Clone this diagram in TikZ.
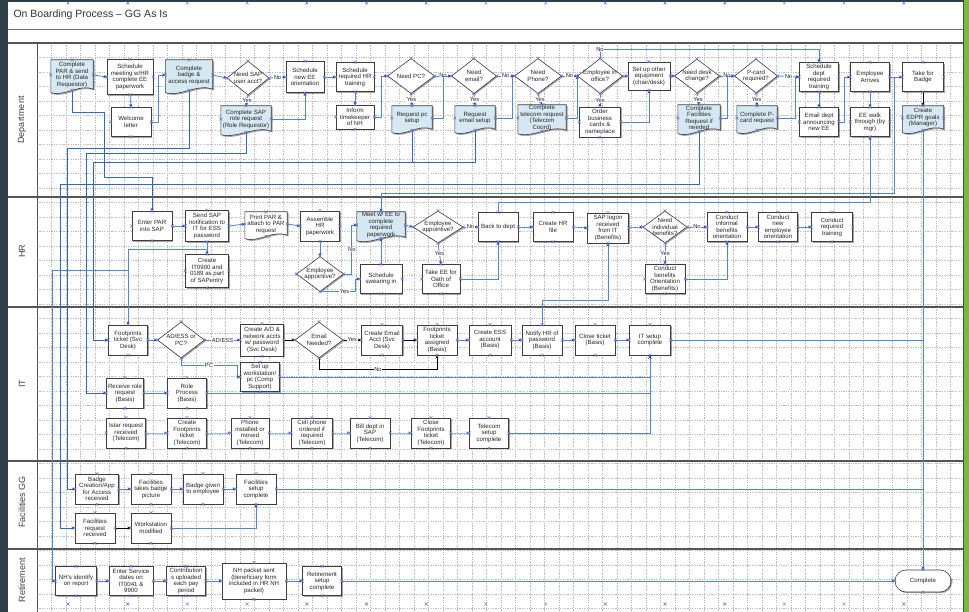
\documentclass[tikz,border=0pt]{standalone}
\usepackage{fontspec}
\setmainfont{Liberation Sans}
\usetikzlibrary{calc,shapes.geometric,shapes.misc,shadows,arrows.meta}
\pgfdeclarelayer{gridl}
\pgfdeclarelayer{bg}
\pgfsetlayers{gridl,bg,main}
\definecolor{framec}{RGB}{46,62,72}
\definecolor{greenbar}{RGB}{112,190,60}
\definecolor{boxc}{RGB}{62,62,62}
\definecolor{docfill}{RGB}{214,233,242}
\definecolor{connc}{RGB}{78,136,206}
\definecolor{conndc}{RGB}{45,105,195}
\definecolor{connlc}{RGB}{150,190,232}
\definecolor{arrc}{RGB}{30,80,170}
\definecolor{xmc}{RGB}{112,112,228}
\definecolor{gridc}{RGB}{185,185,185}
\definecolor{lanec}{RGB}{85,85,85}
\newcommand\docshape[2][docfill]{%
\begin{pgfonlayer}{bg}
\fill[black!35] ($(#2.north west)+(1.3,1.3)$) -- ($(#2.north east)+(1.3,1.3)$) -- ($(#2.south east)+(1.3,0.3)$) .. controls ($(#2.south west)!0.7!(#2.south east)+(1.3,-5.7)$) and ($(#2.south west)!0.3!(#2.south east)+(1.3,8.3)$) .. ($(#2.south west)+(1.3,3.8)$) -- cycle;
\filldraw[fill=#1, draw=boxc, line width=0.6pt] (#2.north west) -- (#2.north east) -- ($(#2.south east)+(0,-1)$) .. controls ($(#2.south west)!0.7!(#2.south east)+(0,-7)$) and ($(#2.south west)!0.3!(#2.south east)+(0,7)$) .. ($(#2.south west)+(0,2.5)$) -- cycle;
\end{pgfonlayer}}
\tikzset{
  every node/.style={font=\fontsize{6.1}{6.5}\selectfont, text=black!85},
  shad/.style={drop shadow={shadow xshift=1.2pt, shadow yshift=-1.2pt, opacity=0.35, fill=black}},
  box/.style={rectangle, draw=boxc, fill=white, line width=0.6pt, align=center, inner sep=0.5pt, minimum width=40, minimum height=30, shad},
  doc/.style={rectangle, draw=none, fill=none, align=center, inner sep=0.5pt, minimum width=40, minimum height=24},
  dia/.style={diamond, draw=boxc, fill=white, line width=0.6pt, inner sep=0pt, minimum width=46, minimum height=35, shad},
  dtext/.style={align=center, inner sep=0pt},
  term/.style={rounded rectangle, draw=boxc, fill=white, line width=0.6pt, minimum width=58, minimum height=22, inner sep=1pt, shad},
  conn/.style={draw=connc, line width=0.8pt, -{Stealth[length=3.3pt,width=3pt,color=arrc]}},
  connd/.style={draw=conndc, line width=0.95pt, -{Stealth[length=3.3pt,width=3pt,color=arrc]}},
  connk/.style={draw=black, line width=0.7pt, -{Stealth[length=3.3pt,width=3pt,color=black]}},
  connl/.style={draw=connlc, line width=0.8pt, -{Stealth[length=3.3pt,width=3pt,color=connc]}},
  connt/.style={draw=connc, line width=0.55pt},
  lab/.style={fill=white, inner sep=0.6pt, font=\fontsize{5.8}{6}\selectfont},
  xmk/.style={draw=xmc, line width=0.45pt},
  gridline/.style={draw=gridc, line width=0.3pt, dash pattern=on 1.2pt off 1.2pt},
  lanelab/.style={rotate=90, font=\fontsize{9}{10}\selectfont, text=black!75}
}
\begin{document}
\begin{tikzpicture}[x=1pt,y=-1pt]
\useasboundingbox (0,0) rectangle (969,612);
\begin{pgfonlayer}{gridl}
\fill[white] (0,0) rectangle (969,612);
\foreach \i in {0,...,63} \draw[gridline] ({37+14.5*\i},43) -- ({37+14.5*\i},612);
\foreach \j in {1,...,39} \draw[gridline] (37,{43+14.5*\j}) -- (963,{43+14.5*\j});
\fill[framec] (0,0) rectangle (8,612);
\fill[framec] (0,0) rectangle (969,2.2);
\fill[greenbar] (963.5,0) rectangle (969,612);
\draw[black!70, line width=0.4pt] (963,2) -- (963,612);
\draw[black!55, line width=0.6pt] (8,29) -- (963,29);
\foreach \yy in {43,197,307,461,549} \draw[lanec, line width=1.1pt] (8,\yy) -- (963,\yy);
\draw[lanec, line width=0.9pt] (37,43) -- (37,612);
\foreach \k in {0,...,14} {
  \draw[xmk] ({68+59.7*\k-1.5},1.5) -- ++(3,3) ({68+59.7*\k-1.5},4.5) -- ++(3,-3);
  \draw[xmk] ({68+59.7*\k-1.5},602.5) -- ++(3,3) ({68+59.7*\k-1.5},605.5) -- ++(3,-3);
}
\end{pgfonlayer}

\node[anchor=west, font=\fontsize{10.5}{12}\selectfont, text=black!80] (title) at (10,15) {On Boarding Process – GG As Is};
\node[lanelab] (LD) at (22,120) {Department};
\node[lanelab] (LH) at (22,251) {HR};
\node[lanelab] (LI) at (22,384) {IT};
\node[lanelab] (LF) at (22,502) {Facilities GG};
\node[lanelab] (LR) at (22,580) {Retirement};

% ---------------- Department
\node[doc, minimum width=42, minimum height=30] (D1) at (72,75) {Complete\\PAR \& send\\to HR (Data\\Requestor)};
\node[box, minimum width=46, minimum height=35] (D2) at (130,77) {Schedule\\meeting w/HR\\complete EE\\paperwork};
\node[doc, minimum width=47, minimum height=30] (D3) at (189,75) {Complete\\badge \&\\access request};
\node[dia, minimum width=42, minimum height=34] (D4) at (248,78) {};
\node[dtext] (D4t) at (D4) {Need SAP\\user acct?};
\node[box, minimum width=38, minimum height=31] (D5) at (305,77) {Schedule\\new EE\\orientation};
\node[doc, minimum width=50, minimum height=26] (D6) at (246,119) {Complete SAP\\role request\\(Role Requestor)};
\node[box, minimum width=40, minimum height=29] (D7) at (131,122) {Welcome\\letter};
\node[box, minimum width=38, minimum height=29] (D8) at (355,77) {Schedule\\required HR\\training};
\node[box, minimum width=38, minimum height=24] (D9) at (355,117) {Inform\\timekeeper\\of NH};
\node[dia, minimum width=47, minimum height=35] (D10) at (411,76) {};
\node[dtext] (D10t) at (D10) {Need PC?};
\node[doc, minimum width=40, minimum height=24] (D11) at (412,118) {Request pc\\setup};
\node[dia, minimum width=45, minimum height=35] (D12) at (474,76) {};
\node[dtext] (D12t) at (D12) {Need\\email?};
\node[doc, minimum width=40, minimum height=24] (D13) at (475,118) {Request\\email setup};
\node[dia, minimum width=47, minimum height=35] (D14) at (538,76) {};
\node[dtext] (D14t) at (D14) {Need\\Phone?};
\node[doc, minimum width=48, minimum height=26] (D15) at (542,118) {Complete\\telecom request\\(Telecom\\Coord)};
\node[dia, minimum width=45, minimum height=35] (D16) at (600,76) {};
\node[dtext] (D16t) at (D16) {Employee in\\office?};
\node[box, minimum width=41, minimum height=30] (D17) at (600,122) {Order\\business\\cards \&\\nameplace};
\node[box, minimum width=42, minimum height=28] (D18) at (649,76) {Set up other\\equipment\\(chair/desk)};
\node[dia, minimum width=45, minimum height=34] (D19) at (697,76) {};
\node[dtext] (D19t) at (D19) {Need desk\\change?};
\node[doc, minimum width=42, minimum height=26] (D20) at (699,118) {Complete\\Facilities\\Request if\\needed};
\node[dia, minimum width=43, minimum height=34] (D21) at (756,76) {};
\node[dtext] (D21t) at (D21) {P-card\\required?};
\node[doc, minimum width=40, minimum height=24] (D22) at (757,118) {Complete P-\\card request};
\node[box, minimum width=39, minimum height=29] (D23) at (819,77) {Schedule\\dept\\required\\training};
\node[box, minimum width=39, minimum height=29] (D24) at (819,122) {Email dept\\announcing\\new EE};
\node[box, minimum width=39, minimum height=29] (D25) at (870,77) {Employee\\Arrives};
\node[box, minimum width=39, minimum height=29] (D26) at (870,122) {EE walk\\through (by\\mgr)};
\node[box, minimum width=41, minimum height=29] (D27) at (923,77) {Take for\\Badge};
\node[doc, minimum width=41, minimum height=24] (D28) at (923,118) {Create\\EDPR goals\\(Manager)};

% ---------------- HR
\node[box, minimum width=40, minimum height=29] (H1) at (152,226) {Enter PAR\\into SAP};
\node[box, minimum width=43, minimum height=31] (H2) at (207,226) {Send SAP\\notification to\\IT for ESS\\password};
\node[doc, minimum width=42, minimum height=24] (H3) at (266,224) {Print PAR \&\\attach to PAR\\request};
\node[box, minimum width=39, minimum height=30] (H4) at (320,226) {Assemble\\HR\\paperwork};
\node[box, minimum width=43, minimum height=33] (H5) at (207,271) {Create\\IT0900 and\\0189 as part\\of SAPentry};
\node[dia, minimum width=47, minimum height=35] (H6) at (320,274) {};
\node[dtext] (H6t) at (H6) {Employee\\appointive?};
\node[doc, minimum width=48, minimum height=26] (H7) at (381,225) {Meet w/ EE to\\complete\\required\\paperwork};
\node[box, minimum width=42, minimum height=29] (H8) at (381,279) {Schedule\\swearing in};
\node[dia, minimum width=50, minimum height=32] (H9) at (438,227) {};
\node[dtext] (H9t) at (H9) {Employee\\appointive?};
\node[box, minimum width=38, minimum height=29] (H10) at (441,279) {Take EE for\\Oath of\\Office};
\node[box, minimum width=40, minimum height=29] (H11) at (498,227) {Back to dept};
\node[box, minimum width=40, minimum height=29] (H12) at (553,227) {Create HR\\file};
\node[box, minimum width=41, minimum height=30] (H13) at (608,228) {SAP logon\\received\\from IT\\(Benefits)};
\node[dia, minimum width=44, minimum height=32] (H14) at (665,227) {};
\node[dtext] (H14t) at (H14) {Need\\individual\\benefits?};
\node[box, minimum width=40, minimum height=29] (H15) at (665,279) {Conduct\\benefits\\Orientation\\(Benefits)};
\node[box, minimum width=40, minimum height=29] (H16) at (727,227) {Conduct\\informal\\benefits\\orientation};
\node[box, minimum width=39, minimum height=29] (H17) at (778,227) {Conduct\\new\\employee\\orientation};
\node[box, minimum width=41, minimum height=29] (H18) at (832,227) {Conduct\\required\\training};

% ---------------- IT
\node[box, minimum width=39, minimum height=30] (I1) at (128,340) {Footprints\\ticket (Svc\\Desk)};
\node[dia, minimum width=47, minimum height=36] (I2) at (181,340) {};
\node[dtext] (I2t) at (I2) {AD/ESS or\\PC?};
\node[box, minimum width=43, minimum height=32] (I3) at (262,340) {Create A/D \&\\network accts\\w/ password\\(Svc Desk)};
\node[dia, minimum width=48, minimum height=36] (I4) at (319,340) {};
\node[dtext] (I4t) at (I4) {Email\\Needed?};
\node[box, minimum width=39, minimum height=29] (I5) at (260,377) {Set up\\workstation/\\pc (Comp\\Support)};
\node[box, minimum width=41, minimum height=30] (I6) at (382,340) {Create Email\\Acct (Svc\\Desk)};
\node[box, minimum width=40, minimum height=30] (I7) at (437,340) {Footprints\\ticket\\assigned\\(Basis)};
\node[box, minimum width=42, minimum height=30] (I8) at (490,340) {Create ESS\\account\\(Basis)};
\node[box, minimum width=40, minimum height=30] (I9) at (542,340) {Notify HR of\\password\\(Basis)};
\node[box, minimum width=40, minimum height=30] (I10) at (595,340) {Close ticket\\(Basis)};
\node[box, minimum width=41, minimum height=30] (I11) at (650,340) {IT setup\\complete};
\node[box, minimum width=37, minimum height=30] (I12) at (125,393) {Receive role\\request\\(Basis)};
\node[box, minimum width=39, minimum height=30] (I13) at (187,393) {Role\\Process\\(Basis)};
\node[box, minimum width=39, minimum height=30] (I14) at (126,433) {Istar request\\received\\(Telecom)};
\node[box, minimum width=39, minimum height=30] (I15) at (187,433) {Create\\Footprints\\ticket\\(Telecom)};
\node[box, minimum width=38, minimum height=30] (I16) at (250,433) {Phone\\installed or\\moved\\(Telecom)};
\node[box, minimum width=41, minimum height=30] (I17) at (312,433) {Cell phone\\ordered if\\required\\(Telecom)};
\node[box, minimum width=40, minimum height=30] (I18) at (370,433) {Bill dept in\\SAP\\(Telecom)};
\node[box, minimum width=39, minimum height=30] (I19) at (431,433) {Close\\Footprints\\ticket\\(Telecom)};
\node[box, minimum width=39, minimum height=30] (I20) at (489,433) {Telecom\\setup\\complete};

% ---------------- Facilities
\node[box, minimum width=43, minimum height=30] (F1) at (97,489) {Badge\\Creation/App\\for Access\\received};
\node[box, minimum width=40, minimum height=30] (F2) at (151,489) {Facilities\\takes badge\\picture};
\node[box, minimum width=40, minimum height=30] (F3) at (203,489) {Badge given\\to employee};
\node[box, minimum width=40, minimum height=30] (F4) at (256,489) {Facilities\\setup\\complete};
\node[box, minimum width=40, minimum height=30] (F5) at (95,528) {Facilities\\request\\received};
\node[box, minimum width=40, minimum height=30] (F6) at (151,528) {Workstation\\modified};

% ---------------- Retirement
\node[box, minimum width=41, minimum height=29] (R1) at (76,581) {NH's identify\\on report};
\node[box, minimum width=44, minimum height=29] (R2) at (131,581) {Enter Service\\dates on\\IT0041 \&\\9900};
\node[box, minimum width=39, minimum height=29] (R3) at (186,581) {Contribution\\s uploaded\\each pay\\period};
\node[box, minimum width=64, minimum height=36] (R4) at (254,581) {NH packet sent\\(beneficiary form\\included in HR NH\\packet)};
\node[box, minimum width=39, minimum height=29] (R5) at (322,581) {Retirement\\setup\\complete};
\node[term] (R6) at (923,581) {Complete};

% document shapes
\docshape{D1}\docshape{D3}\docshape{D6}\docshape{D11}\docshape{D13}\docshape{D15}
\docshape{D20}\docshape{D22}\docshape{D28}\docshape[white]{H3}\docshape{H7}

% ---------------- connectors: Department
\draw[conn] (D1.east) -- (D2.west);
\draw[conn] (D2.south) -- (D7.north);
\draw[conn] (D7.east) -- ++(7,0) |- (D3.west);
\draw[conn] (D3.east) -- (D4.west);
\draw[conn] (D4.east) -- node[lab]{No} (D5.west);
\draw[conn] (D4.south) -- node[lab]{Yes} (D6.north);
\draw[conn] (D6.east) -| (D5.south);
\draw[conn] (D5.east) -- (D8.west);
\draw[conn] (D8.south) -- (D9.north);
\draw[conn] (D9.east) -- ++(7,0) |- (D10.west);
\draw[conn] (D10.east) -- node[lab]{No} (D12.west);
\draw[conn] (D10.south) -- node[lab]{Yes} (D11.north);
\draw[conn] (D11.east) -- ++(11,0) |- (D12.west);
\draw[conn] (D12.east) -- node[lab]{No} (D14.west);
\draw[conn] (D12.south) -- node[lab]{Yes} (D13.north);
\draw[conn] (D13.east) -- ++(17,0) |- (D14.west);
\draw[conn] (D14.east) -- node[lab]{No} (D16.west);
\draw[conn] (D14.south) -- node[lab]{Yes} (D15.north);
\draw[conn] (D15.east) -- ++(11,0) |- (D16.west);
\draw[conn] (D16.south) -- node[lab]{Yes} (D17.north);
\draw[conn] (D16.north) -- ++(0,-9) node[lab]{No} -| (D23.north);
\draw[conn] (D16.east) -- (D18.west);
\draw[conn] (D17.east) -| (D18.south);
\draw[conn] (D18.east) -- (D19.west);
\draw[conn] (D19.south) -- node[lab]{Yes} (D20.north);
\draw[conn] (D19.east) -- node[lab]{No} (D21.west);
\draw[conn] (D20.east) -- ++(7,0) |- (D21.west);
\draw[conn] (D21.south) -- node[lab]{Yes} (D22.north);
\draw[conn] (D21.east) -- node[lab]{No} (D23.west);
\draw[conn] (D22.east) -- ++(18,0) |- (D23.west);
\draw[conn] (D23.south) -- (D24.north);
\draw[conn] (D24.east) -- ++(6,0) |- (D25.west);
\draw[conn] (D25.south) -- (D26.north);
\draw[conn] (D25.east) -- (D27.west);
\draw[connk] (D27.south) -- (D28.north);
\draw[connt,-{Stealth[length=3.3pt,width=3pt,color=arrc]}] (D28.south) -- (R6.north);
\draw[conn] (D25.east) -| (894,193) -| (H7.north);
\draw[conn] (H11.north) |- (870,202) -- (D26.south);

% left bundle
\draw[connd] (D1.south) |- (104,112) |- (152,177) -- (H1.north);
\draw[connd] (D3.south) |- (67,148) |- (F1.west);
\draw[connd] (D6.south) |- (86,153) |- (I12.west);
\draw[connd] (D13.south) |- (93,162) |- (I1.west);
\draw[connd] (D11.south) |- (93,162) |- (I1.west);
\draw[connd] (D20.south) |- (60,184) |- (F5.west);

% ---------------- HR
\draw[conn] (H1.east) -- (H2.west);
\draw[conn] (H2.east) -- (H3.west);
\draw[conn] (H3.east) -- (H4.west);
\draw[conn] (H4.south) -- (H6.north);
\draw[conn] (H2.south) -- (H5.north);
\draw[conn] ($(H2.south)!0.6!(H5.north)$) -| (I1.north);
\draw[conn] (128,270) -- (52,270) |- (R1.west);
\draw[conn] (H6.east) -- ++(8,0) |- node[lab,pos=0.25]{No} (H7.west);
\draw[conn] (H6.south) -- node[lab,pos=0.7]{Yes} ++(35,0) |- (H8.west);
\draw[conn] (H8.north) -- (H7.south);
\draw[conn] (H7.east) -- (H9.west);
\draw[conn] (H9.east) -- node[lab]{No} (H11.west);
\draw[conn] (H9.south) -- node[lab]{Yes} (H10.north);
\draw[conn] (H10.east) -| (H11.south);
\draw[conn] (H11.east) -- (H12.west);
\draw[conn] (H12.east) -- (H13.west);
\draw[conn] (H13.east) -- (H14.west);
\draw[conn] (H14.east) -- node[lab]{No} (H16.west);
\draw[conn] (H14.south) -- node[lab]{Yes} (H15.north);
\draw[conn] (H15.east) -| (H16.south);
\draw[conn] (H16.east) -- (H17.west);
\draw[conn] (H17.east) -- (H18.west);
\draw[conn] (I9.north) -- ++(0,-24) -| (H13.south);

% ---------------- IT
\draw[conn] (I1.east) -- (I2.west);
\draw[conn] (I2.east) -- node[lab]{AD/ESS} (I3.west);
\draw[conn] (I2.south) -- ++(0,7) -- node[lab]{PC} ++(56,0) |- (I5.west);
\draw[connk] (I3.east) -- (I4.west);
\draw[connk] (I4.east) -- node[lab]{Yes} (I6.west);
\draw[connk] (I4.south) -- ++(0,11) -| node[lab,pos=0.25]{No} (I7.south);
\draw[connk] (I6.east) -- (I7.west);
\draw[conn] (I7.east) -- (I8.west);
\draw[conn] (I8.east) -- (I9.west);
\draw[conn] (I9.east) -- (I10.west);
\draw[conn] (I10.east) -- (I11.west);
\draw[conn] (I5.east) -| (I11.south);
\draw[conn] (I13.east) -| (I11.south);
\draw[conn] (I20.east) -| (I11.south);
\draw[conn] (I12.east) -- (I13.west);
\draw[connl] (I14.east) -- (I15.west);
\draw[connl] (I15.east) -- (I16.west);
\draw[connl] (I16.east) -- (I17.west);
\draw[connl] (I17.east) -- (I18.west);
\draw[connl] (I18.east) -- (I19.west);
\draw[connl] (I19.east) -- (I20.west);
\draw[connt] (I11.east) -- (R6.north |- I11.east);

% ---------------- Facilities
\draw[conn] (F1.east) -- (F2.west);
\draw[conn] (F2.east) -- (F3.west);
\draw[conn] (F3.east) -- (F4.west);
\draw[connk] (F5.east) -- (F6.west);
\draw[conn] (F6.east) -| (F4.south);
\draw[connt] (F4.east) -- (R6.north |- F4.east);

% ---------------- Retirement
\draw[conn] (R1.east) -- (R2.west);
\draw[conn] (R2.east) -- (R3.west);
\draw[conn] (R3.east) -- (R4.west);
\draw[conn] (R4.east) -- (R5.west);
\draw[connt,-{Stealth[length=3.3pt,width=3pt,color=arrc]}] (R5.east) -- (R6.west);

% connection point marks
\foreach \p/\m in {D/28,H/18,I/20,F/6,R/6} {
  \foreach \k in {1,...,\m} {
    \foreach \a in {north,south,east,west} {
      \draw[xmk] ($(\p\k.\a)+(-1.4,-1.4)$) -- ++(2.8,2.8) ($(\p\k.\a)+(-1.4,1.4)$) -- ++(2.8,-2.8);
    }
  }
}
\end{tikzpicture}
\end{document}
